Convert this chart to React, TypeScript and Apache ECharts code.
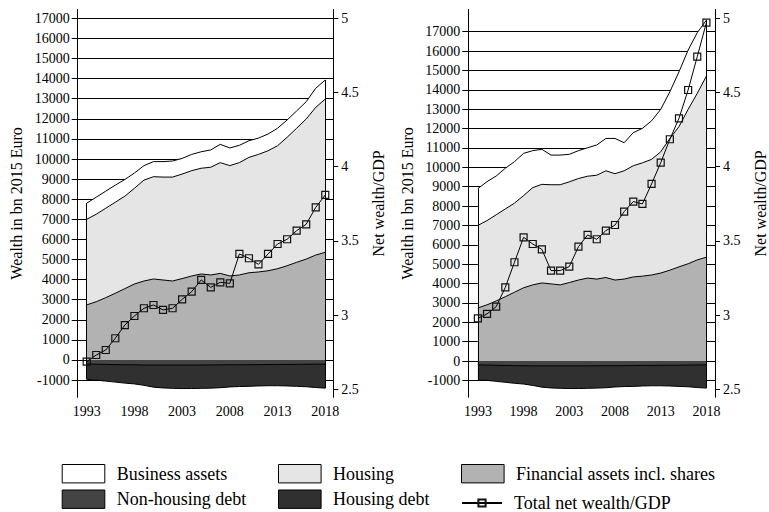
import React, { useEffect, useRef } from "react";
import * as echarts from "echarts";

const years = [1993, 1994, 1995, 1996, 1997, 1998, 1999, 2000, 2001, 2002, 2003, 2004, 2005, 2006, 2007, 2008, 2009, 2010, 2011, 2012, 2013, 2014, 2015, 2016, 2017, 2018];
const yearTicks = [1993, 1998, 2003, 2008, 2013, 2018];
const wealthTicks = [-1000, 0, 1000, 2000, 3000, 4000, 5000, 6000, 7000, 8000, 9000, 10000, 11000, 12000, 13000, 14000, 15000, 16000, 17000];
const ratioTicks = [2.5, 3, 3.5, 4, 4.5, 5];

const financialAssets = [2740, 2900, 3100, 3320, 3550, 3780, 3930, 4030, 3980, 3930, 4050, 4180, 4280, 4230, 4310, 4180, 4230, 4340, 4380, 4440, 4540, 4690, 4860, 5020, 5220, 5360];
const housingLeft = [4260, 4350, 4450, 4530, 4600, 4760, 5020, 5090, 5120, 5170, 5200, 5240, 5260, 5360, 5510, 5490, 5590, 5740, 5850, 5970, 6120, 6390, 6670, 6970, 7350, 7625];
const businessLeft = [800, 850, 850, 850, 830, 760, 720, 750, 770, 800, 780, 810, 820, 860, 910, 880, 860, 830, 810, 830, 870, 860, 860, 860, 950, 945];
const housingRight = [4260, 4350, 4450, 4530, 4600, 4760, 5020, 5090, 5120, 5170, 5200, 5240, 5260, 5360, 5510, 5490, 5590, 5740, 5850, 5970, 6260, 6800, 7240, 7970, 8600, 9350];
const businessRight = [1900, 2010, 2000, 2100, 2140, 2180, 1910, 1810, 1530, 1530, 1420, 1440, 1470, 1560, 1670, 1820, 1450, 1710, 1780, 1990, 2190, 2410, 2830, 3060, 3130, 2890];
const nonHousingDebt = [-200, -210, -220, -230, -240, -240, -250, -250, -250, -250, -250, -250, -250, -245, -240, -240, -240, -235, -230, -225, -220, -220, -215, -210, -205, -200];
const housingDebt = [-760, -790, -830, -870, -910, -950, -1010, -1100, -1140, -1160, -1170, -1170, -1160, -1155, -1140, -1100, -1080, -1075, -1060, -1055, -1060, -1070, -1095, -1120, -1165, -1200];
const netWealthGdpLeft = [2.686, 2.731, 2.765, 2.844, 2.933, 2.994, 3.046, 3.068, 3.035, 3.046, 3.106, 3.158, 3.237, 3.187, 3.221, 3.214, 3.412, 3.383, 3.342, 3.412, 3.479, 3.511, 3.569, 3.612, 3.726, 3.81];
const netWealthGdpRight = [2.978, 3.008, 3.057, 3.187, 3.356, 3.524, 3.479, 3.443, 3.3, 3.3, 3.327, 3.461, 3.54, 3.511, 3.569, 3.607, 3.697, 3.765, 3.749, 3.884, 4.027, 4.185, 4.326, 4.517, 4.742, 4.971];

const C_BUS = "#ffffff";
const C_HOUS = "#e5e5e5";
const C_FIN = "#b2b2b2";
const C_NHD = "#444444";
const C_HD = "#303030";
const FONT = "'Liberation Serif', 'Times New Roman', serif";

const N_BUS = "Business assets";
const N_HOUS = "Housing";
const N_FIN = "Financial assets incl. shares";
const N_NHD = "Non-housing debt";
const N_HD = "Housing debt";
const N_RATIO = "Total net wealth/GDP";

function cum(...arrs: number[][]) {
  return arrs[0].map((_, i) => arrs.reduce((s, a) => s + a[i], 0));
}

function panelSeries(xi: number, yl: number, yr: number, housing: number[], business: number[], ratio: number[]) {
  const finTop = financialAssets;
  const housTop = cum(financialAssets, housing);
  const busTop = cum(financialAssets, housing, business);
  const debtTop = nonHousingDebt;
  const debtBottom = cum(nonHousingDebt, housingDebt);
  const pts = (vals: number[]) => years.map((y, i) => [y, vals[i]]);
  const area = (name: string, vals: number[], color: string) => ({
    name,
    type: "line",
    xAxisIndex: xi,
    yAxisIndex: yl,
    data: pts(vals),
    symbol: "none",
    color,
    lineStyle: { color: "#000", width: 1 },
    areaStyle: { color, opacity: 1, origin: "auto" },
    z: 2,
    silent: true,
  });
  const last = years.length - 1;
  return [
    area(N_BUS, busTop, C_BUS),
    area(N_HOUS, housTop, C_HOUS),
    area(N_FIN, finTop, C_FIN),
    area(N_HD, debtBottom, C_HD),
    {
      ...area(N_NHD, debtTop, C_NHD),
      markLine: {
        silent: true,
        symbol: "none",
        label: { show: false },
        lineStyle: { color: "#000", width: 1, type: "solid" },
        data: [
          [{ coord: [years[0], busTop[0]] }, { coord: [years[0], debtBottom[0]] }],
          [{ coord: [years[last], busTop[last]] }, { coord: [years[last], debtBottom[last]] }],
        ],
      },
    },
    {
      name: N_RATIO,
      type: "line",
      xAxisIndex: xi,
      yAxisIndex: yr,
      data: pts(ratio),
      symbol: "rect",
      symbolSize: 7,
      color: "#000",
      lineStyle: { color: "#000", width: 1 },
      itemStyle: { color: "rgba(0,0,0,0)", borderColor: "#111", borderWidth: 1.2 },
      z: 10,
      silent: true,
    },
  ];
}

const labelStyle = { fontFamily: FONT, fontSize: 14, color: "#000" };
const nameStyle = { fontFamily: FONT, fontSize: 16, color: "#000" };

function xAxis(gridIndex: number, min: number, max: number) {
  return {
    type: "value",
    gridIndex,
    min,
    max,
    axisLine: { show: true, lineStyle: { color: "#000", width: 1 } },
    axisTick: { show: true, length: 5, customValues: yearTicks, lineStyle: { color: "#000" } },
    axisLabel: { ...labelStyle, margin: 7, customValues: yearTicks, formatter: (v: number) => String(v) },
    splitLine: { show: false },
  };
}

function wealthAxis(gridIndex: number, min: number, max: number) {
  return {
    type: "value",
    gridIndex,
    position: "left",
    min,
    max,
    name: "Wealth in bn 2015 Euro",
    nameLocation: "middle",
    nameRotate: 90,
    nameGap: 53,
    nameTextStyle: nameStyle,
    axisLine: { show: true, lineStyle: { color: "#000", width: 1 } },
    axisTick: { show: true, length: 6, customValues: wealthTicks, lineStyle: { color: "#000" } },
    axisLabel: { ...labelStyle, margin: 8, customValues: wealthTicks, formatter: (v: number) => String(v) },
    splitLine: { show: true, lineStyle: { color: "#000", width: 1 } },
  };
}

function ratioAxis(gridIndex: number, nameGap: number) {
  return {
    type: "value",
    gridIndex,
    position: "right",
    min: 2.4461,
    max: 5.0593,
    name: "Net wealth/GDP",
    nameLocation: "middle",
    nameRotate: 90,
    nameGap,
    nameTextStyle: nameStyle,
    axisLine: { show: true, lineStyle: { color: "#000", width: 1 } },
    axisTick: { show: true, length: 5, customValues: ratioTicks, lineStyle: { color: "#000" } },
    axisLabel: { ...labelStyle, margin: 8, customValues: ratioTicks, formatter: (v: number) => String(v) },
    splitLine: { show: false },
  };
}

function legendItem(name: string, left: number, top: number, color: string | null, itemHeight = 18.4) {
  const item: any = { name };
  if (color) {
    item.icon = "rect";
    item.itemStyle = { color, borderColor: "#000", borderWidth: 1 };
  }
  return {
    data: [item],
    left,
    top,
    padding: 0,
    itemWidth: color ? 42.6 : 40,
    itemHeight,
    selectedMode: false,
    textStyle: { fontFamily: FONT, fontSize: 18, color: "#000", padding: [0, 0, 0, 7] },
  };
}

export default function App() {
  const ref = useRef<HTMLDivElement>(null);
  useEffect(() => {
    if (!ref.current) return;
    const chart = echarts.init(ref.current, null, { renderer: "svg" });
    chart.setOption({
      animation: false,
      backgroundColor: "#fff",
      textStyle: { fontFamily: FONT, color: "#000" },
      grid: [
        { left: 77.7, top: 9.5, width: 255.6, height: 387.8 },
        { left: 468.3, top: 9.5, width: 257.4, height: 387.8 },
      ],
      xAxis: [xAxis(0, 1992.06, 2018.84), xAxis(1, 1991.95, 2018.94)],
      yAxis: [
        wealthAxis(0, -1856, 17438),
        ratioAxis(0, 37),
        wealthAxis(1, -1874, 18147),
        ratioAxis(1, 37),
      ],
      legend: [
        legendItem(N_BUS, 61.7, 464, C_BUS),
        legendItem(N_HOUS, 278, 464, C_HOUS),
        legendItem(N_FIN, 461, 464, C_FIN),
        legendItem(N_NHD, 61.7, 489.5, C_NHD),
        legendItem(N_HD, 278, 489.5, C_HD),
        legendItem(N_RATIO, 461, 494, null, 9),
      ],
      series: [
        ...panelSeries(0, 0, 1, housingLeft, businessLeft, netWealthGdpLeft),
        ...panelSeries(1, 2, 3, housingRight, businessRight, netWealthGdpRight),
      ],
    });
    return () => chart.dispose();
  }, []);
  return <div ref={ref} style={{ position: "absolute", left: 0, top: 0, width: 769, height: 512 }} />;
}
